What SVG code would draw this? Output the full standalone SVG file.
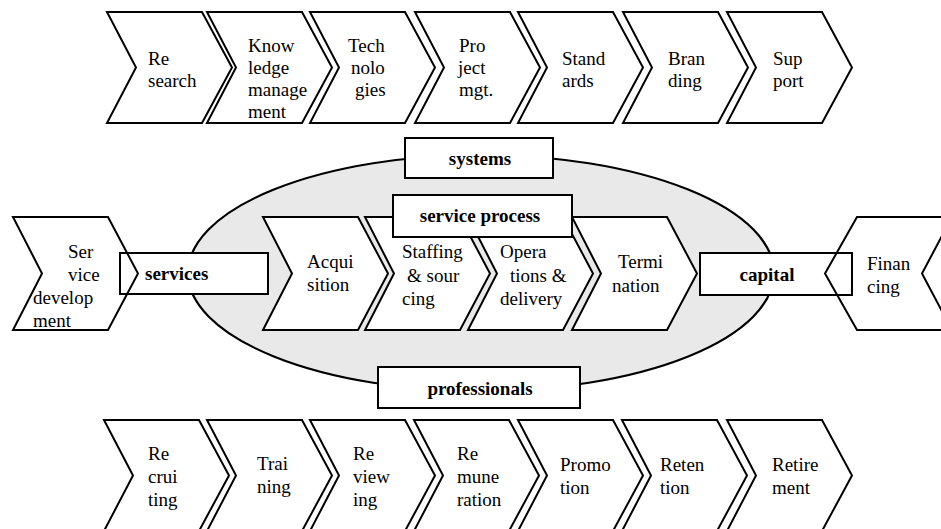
<svg xmlns="http://www.w3.org/2000/svg" width="941" height="529" viewBox="0 0 941 529">
<style>
.ch{fill:#fff;stroke:#000;stroke-width:2;stroke-linejoin:miter}
.chn{fill:none;stroke:#000;stroke-width:2;stroke-linejoin:miter}
.bx{fill:#fff;stroke:#000;stroke-width:2}
.t{font-size:19px;fill:#000}
.b{font-size:19px;font-weight:bold;fill:#000}
.ell{fill:#e9e9e9;stroke:#000;stroke-width:2.2}
</style>
<rect width="941" height="529" fill="#fff"/>

<g id="connectors"></g>

<g font-family="'Liberation Serif', 'DejaVu Serif', serif">
<!-- top row -->
<g id="research"><polygon class="ch" points="107,12 202,12 232,67.5 202,123 107,123 136,67.5"/>
<text class="t" x="148" y="65">Re</text><text class="t" x="148" y="87">search</text></g>
<g id="knowledge"><polygon class="ch" points="207,12 302,12 332,67.5 302,123 207,123 236,67.5"/>
<text class="t" x="248" y="52">Know</text><text class="t" x="248" y="74">ledge</text><text class="t" x="248" y="96">manage</text><text class="t" x="248" y="118">ment</text></g>
<g id="technologies"><polygon class="ch" points="310,12 405,12 435,67.5 405,123 310,123 339,67.5"/>
<text class="t" x="348" y="52">Tech</text><text class="t" x="351" y="74">nolo</text><text class="t" x="355" y="96">gies</text></g>
<g id="projectmgt"><polygon class="ch" points="415,12 510,12 540,67.5 510,123 415,123 444,67.5"/>
<text class="t" x="459" y="52">Pro</text><text class="t" x="458" y="74">ject</text><text class="t" x="459" y="96">mgt.</text></g>
<g id="standards"><polygon class="ch" points="518,12 613,12 643,67.5 613,123 518,123 547,67.5"/>
<text class="t" x="562" y="65">Stand</text><text class="t" x="562" y="87">ards</text></g>
<g id="branding"><polygon class="ch" points="623,12 718,12 748,67.5 718,123 623,123 652,67.5"/>
<text class="t" x="668" y="65">Bran</text><text class="t" x="668" y="87">ding</text></g>
<g id="support"><polygon class="ch" points="727,12 822,12 852,67.5 822,123 727,123 756,67.5"/>
<text class="t" x="773" y="65">Sup</text><text class="t" x="773" y="87">port</text></g>

<!-- ellipse -->
<g id="ellipse"><ellipse class="ell" cx="481" cy="273" rx="293" ry="118"/></g>

<!-- service process chevrons -->
<g id="acquisition"><polygon class="ch" points="263,217 358,217 388,273.5 358,330 263,330 292,273.5"/>
<text class="t" x="307" y="268">Acqui</text><text class="t" x="307" y="291">sition</text></g>
<g id="staffing"><polygon class="ch" points="365,217 460,217 490,273.5 460,330 365,330 394,273.5"/>
<text class="t" x="402" y="258">Staffing</text><text class="t" x="407" y="282">&amp; sour</text><text class="t" x="402" y="305">cing</text></g>
<g id="operations"><polygon class="ch" points="468,217 563,217 593,273.5 563,330 468,330 497,273.5"/>
<text class="t" x="500" y="258">Opera</text><text class="t" x="510" y="282">tions &amp;</text><text class="t" x="500" y="305">delivery</text></g>
<g id="termination"><polygon class="ch" points="572,217 667,217 697,273.5 667,330 572,330 601,273.5"/>
<text class="t" x="618" y="268">Termi</text><text class="t" x="612" y="292">nation</text></g>

<!-- labels -->
<g id="systems"><rect class="bx" x="405" y="138" width="148" height="40"/>
<text class="b" x="480" y="165" text-anchor="middle">systems</text></g>
<g id="service-process"><rect class="bx" x="393" y="195" width="179" height="42"/>
<text class="b" x="480" y="222" text-anchor="middle">service process</text></g>
<g id="professionals"><rect class="bx" x="378" y="367" width="202" height="41"/>
<text class="b" x="480" y="395" text-anchor="middle">professionals</text></g>

<g id="services"><rect class="bx" x="120" y="253" width="148" height="41"/>
<text class="b" x="145" y="280">services</text></g>
<g id="service-development"><polygon class="chn" points="13,217 108,217 138,273.5 108,330 13,330 42,273.5"/>
<text class="t" x="68" y="258">Ser</text><text class="t" x="68" y="281">vice</text><text class="t" x="33" y="304">develop</text><text class="t" x="33" y="327">ment</text></g>

<g id="capital"><rect class="bx" x="700" y="253" width="152" height="42"/>
<text class="b" x="767" y="281" text-anchor="middle">capital</text></g>
<g id="financing"><polygon class="chn" points="825,273.5 857,217 952,217 922,273.5 952,330 857,330"/>
<text class="t" x="867" y="270">Finan</text><text class="t" x="867" y="293">cing</text></g>

<!-- bottom row -->
<g id="recruiting"><polygon class="ch" points="104,420 199,420 229,475.5 199,531 104,531 133,475.5"/>
<text class="t" x="148" y="460">Re</text><text class="t" x="148" y="483">crui</text><text class="t" x="148" y="506">ting</text></g>
<g id="training"><polygon class="ch" points="207,420 302,420 332,475.5 302,531 207,531 236,475.5"/>
<text class="t" x="257" y="470">Trai</text><text class="t" x="257" y="493">ning</text></g>
<g id="reviewing"><polygon class="ch" points="310,420 405,420 435,475.5 405,531 310,531 339,475.5"/>
<text class="t" x="353" y="460">Re</text><text class="t" x="353" y="483">view</text><text class="t" x="353" y="506">ing</text></g>
<g id="remuneration"><polygon class="ch" points="414,420 509,420 539,475.5 509,531 414,531 443,475.5"/>
<text class="t" x="457" y="460">Re</text><text class="t" x="457" y="483">mune</text><text class="t" x="457" y="506">ration</text></g>
<g id="promotion"><polygon class="ch" points="518,420 613,420 643,475.5 613,531 518,531 547,475.5"/>
<text class="t" x="560" y="471">Promo</text><text class="t" x="560" y="494">tion</text></g>
<g id="retention"><polygon class="ch" points="622,420 717,420 747,475.5 717,531 622,531 651,475.5"/>
<text class="t" x="660" y="471">Reten</text><text class="t" x="660" y="494">tion</text></g>
<g id="retirement"><polygon class="ch" points="727,420 822,420 852,475.5 822,531 727,531 756,475.5"/>
<text class="t" x="772" y="471">Retire</text><text class="t" x="772" y="494">ment</text></g>
</g>
</svg>
